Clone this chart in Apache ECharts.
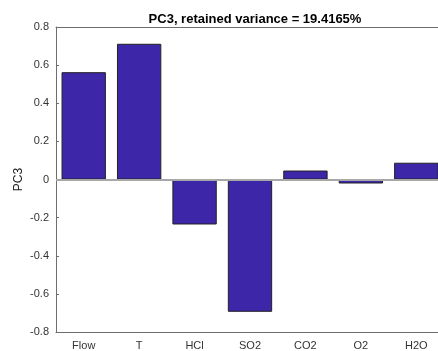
<!DOCTYPE html>
<html><head><meta charset="utf-8">
<script src="https://cdn.jsdelivr.net/npm/echarts@6/dist/echarts.min.js"></script>
<style>html,body{margin:0;padding:0;background:#fff}#c{width:438px;height:351px}</style>
</head><body><div id="c"></div>
<script>
const categories = ['Flow', 'T', 'HCl', 'SO2', 'CO2', 'O2', 'H2O'];
const pc3Values = [0.563, 0.712, -0.236, -0.694, 0.047, -0.021, 0.088];
const yTicks = [-0.8, -0.6, -0.4, -0.2, 0, 0.2, 0.4, 0.6, 0.8];
const titleText = 'PC3, retained variance = 19.4165%';
const yLabel = 'PC3';

const chart = echarts.init(document.getElementById('c'), null, {renderer: 'canvas'});
const font = 'Liberation Sans, Arial, sans-serif';
const axisColor = '#6e6e6e';
chart.setOption({
  animation: false,
  title: {text: titleText, left: 250, top: 8, textAlign: 'center',
    textStyle: {fontFamily: font, fontSize: 13, fontWeight: 'bold', color: '#000'}},
  grid: {left: 56, top: 27, width: 388, height: 305, containLabel: false, outerBoundsMode: 'none'},
  xAxis: [{
    type: 'category', data: categories, position: 'bottom',
    boundaryGap: true,
    axisLine: {onZero: false, lineStyle: {color: axisColor, width: 1}},
    axisTick: {alignWithLabel: true, inside: true, length: 3, lineStyle: {color: axisColor}},
    axisLabel: {fontFamily: font, fontSize: 11, color: '#333', margin: 8},
    splitLine: {show: false}
  }, {
    type: 'category', data: categories, position: 'top',
    boundaryGap: true,
    axisLine: {onZero: false, lineStyle: {color: axisColor, width: 1}},
    axisTick: {alignWithLabel: true, inside: true, length: 3, lineStyle: {color: axisColor}},
    axisLabel: {show: false},
    splitLine: {show: false}
  }],
  yAxis: {
    type: 'value', min: yTicks[0], max: yTicks[yTicks.length - 1], interval: 0.2,
    name: yLabel, nameLocation: 'middle', nameGap: 31, nameRotate: 90,
    nameMoveOverlap: false,
    nameTextStyle: {fontFamily: font, fontSize: 12, color: '#222'},
    axisLine: {show: true, lineStyle: {color: axisColor, width: 1}},
    axisTick: {show: true, inside: true, length: 3, lineStyle: {color: axisColor}},
    axisLabel: {fontFamily: font, fontSize: 11, color: '#333', margin: 7,
      formatter: v => String(Number(v.toFixed(1)))},
    splitLine: {show: false}
  },
  series: [{
    type: 'bar', data: pc3Values, barWidth: '80%', xAxisIndex: 0,
    itemStyle: {color: '#3E26A8', borderColor: '#222', borderWidth: 1},
    markLine: {silent: true, symbol: 'none', label: {show: false},
      lineStyle: {color: '#a8a8a8', width: 2, type: 'solid'},
      data: [{yAxis: 0}]}
  }]
});
</script></body></html>
